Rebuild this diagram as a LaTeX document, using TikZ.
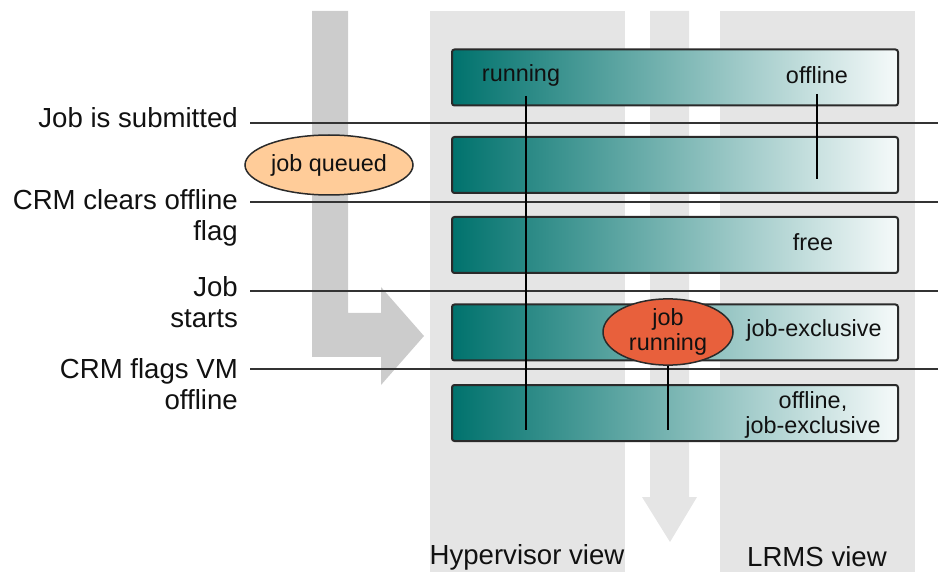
\documentclass[tikz,border=0pt]{standalone}
\usepackage{fontspec}
\setmainfont{Liberation Sans}
\usetikzlibrary{shapes.geometric}
\definecolor{colgrey}{HTML}{E5E5E5}
\definecolor{arrgrey}{HTML}{CCCCCC}
\definecolor{tealL}{HTML}{00726D}
\definecolor{tealR}{HTML}{F6FAFA}
\definecolor{barline}{HTML}{2A2A2A}
\definecolor{hl}{HTML}{333333}
\definecolor{queued}{HTML}{FFCC99}
\definecolor{runfill}{HTML}{E8603C}
\definecolor{txt}{HTML}{111111}
\tikzset{
  bigtxt/.style={font=\fontsize{27.6}{31}\selectfont, text=txt, inner sep=0pt, align=right},
  smalltxt/.style={font=\fontsize{23.4}{25}\selectfont, text=txt, inner sep=0pt, align=center},
  statebar/.style={draw=barline, line width=2pt, rounded corners=2.5pt, minimum width=446pt, minimum height=56pt, inner sep=0pt, left color=tealL, right color=tealR},
  hline/.style={draw=hl, line width=2.2pt},
  vline/.style={draw=black, line width=1.5pt},
  bubble/.style={ellipse, draw=barline, line width=1.5pt, inner sep=0pt, font=\fontsize{23.4}{25}\selectfont, text=txt, align=center}
}
\begin{document}
\begin{tikzpicture}[x=1pt,y=-1pt]
\useasboundingbox (0,0) rectangle (938,572);
% background columns
\fill[colgrey] (430,11) rectangle (625,572);
\fill[colgrey] (720,11) rectangle (915,572);
% middle down arrow
\fill[colgrey] (650,11) -- (689,11) -- (689,497) -- (697,497) -- (670,542) -- (642,497) -- (650,497) -- cycle;
% left L-shaped arrow
\fill[arrgrey] (312,11) -- (348,11) -- (348,313) -- (381,313) -- (381,287) -- (424,336) -- (381,385) -- (381,357) -- (312,357) -- cycle;
% horizontal event lines
\coordinate (h1a) at (250,123); \coordinate (h1b) at (938,123);
\coordinate (h2a) at (250,202); \coordinate (h2b) at (938,202);
\coordinate (h3a) at (250,291); \coordinate (h3b) at (938,291);
\coordinate (h4a) at (250,369); \coordinate (h4b) at (938,369);
\draw[hline] (h1a) -- (h1b);
\draw[hline] (h2a) -- (h2b);
\draw[hline] (h3a) -- (h3b);
\draw[hline] (h4a) -- (h4b);
% event labels
\node[bigtxt, anchor=east] (ev1) at (238,118) {Job is submitted};
\node[bigtxt, anchor=east] (ev2) at (238,218) {CRM clears offline\\flag};
\node[bigtxt, anchor=east] (ev3) at (238,302) {Job\\starts};
\node[bigtxt, anchor=east] (ev4) at (238,384) {CRM flags VM\\offline};
% state bars
\node[statebar] (b1) at (675,77.5) {};
\node[statebar] (b2) at (675,165) {};
\node[statebar] (b3) at (675,245) {};
\node[statebar] (b4) at (675,332.5) {};
\node[statebar] (b5) at (675,413) {};
% bar texts
\node[smalltxt] (trun) at (521,75) {running};
\node[smalltxt] (toff) at (817,75) {offline};
\node[smalltxt] (tfree) at (813,242) {free};
\node[smalltxt] (tjex) at (814,330) {job-exclusive};
\node[smalltxt] (toffjex) at (813,415) {offline,\\job-exclusive};
% vertical state lines
\coordinate (r1) at (526,96); \coordinate (r2) at (526,430);
\coordinate (o1) at (817,94); \coordinate (o2) at (817,179);
\draw[vline] (r1) -- (r2);
\draw[vline] (o1) -- (o2);
% bubbles
\node[bubble, fill=queued, minimum width=168pt, minimum height=60pt] (jq) at (329,165) {job queued};
\node[bubble, fill=runfill, minimum width=130pt, minimum height=62pt] (jr) at (668,332) {job\\running};
\draw[vline] (jr.south) -- (jr.south |- r2);
% column titles
\node[bigtxt] (hv) at (527,557) {Hypervisor view};
\node[bigtxt] (lv) at (817,557) {LRMS view};
\end{tikzpicture}
\end{document}
